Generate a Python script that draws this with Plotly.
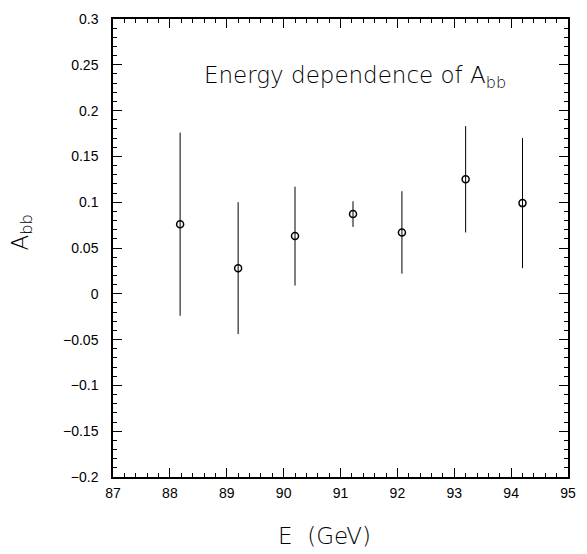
import plotly.graph_objects as go

energy = [88.18, 89.2, 90.2, 91.22, 92.08, 93.2, 94.2]
a_bb = [0.076, 0.028, 0.063, 0.087, 0.067, 0.125, 0.099]
err = [0.100, 0.072, 0.054, 0.014, 0.045, 0.058, 0.071]

x_ticks = [87, 88, 89, 90, 91, 92, 93, 94, 95]
y_ticks = [-0.2, -0.15, -0.1, -0.05, 0, 0.05, 0.1, 0.15, 0.2, 0.25, 0.3]
y_ticktext = ["\u22120.2", "\u22120.15", "\u22120.1", "\u22120.05", "0", "0.05", "0.1", "0.15", "0.2", "0.25", "0.3"]

fig = go.Figure()
fig.add_trace(go.Scatter(
    x=energy, y=a_bb, mode="markers",
    marker=dict(symbol="circle-open", size=7, color="black", line=dict(width=1.5, color="black")),
    error_y=dict(type="data", array=err, visible=True, color="black", thickness=1, width=0),
    showlegend=False,
))

axis_common = dict(
    showgrid=False, zeroline=False, showline=True, linecolor="black", linewidth=1.5,
    mirror="allticks", ticks="inside", tickcolor="black",
    tickfont=dict(family="Liberation Sans, Arial, sans-serif", size=14, color="black"),
)
fig.update_xaxes(
    range=[87, 95], tickvals=x_ticks, ticklen=9, tickwidth=1,
    minor=dict(dtick=0.2, ticks="inside", ticklen=4, tickcolor="black", tickwidth=1),
    ticklabelstandoff=2,
    **axis_common,
)
fig.update_yaxes(
    range=[-0.2, 0.3], tickvals=y_ticks, ticktext=y_ticktext, ticklen=9, tickwidth=1,
    minor=dict(dtick=0.01, ticks="inside", ticklen=4, tickcolor="black", tickwidth=1),
    ticklabelstandoff=10,
    **axis_common,
)

title_font = dict(family="DejaVu Sans, sans-serif", size=23, color="black", weight=300)
fig.add_annotation(
    text="Energy dependence of A<sub>bb</sub>", xref="paper", yref="paper",
    x=0.531, y=0.873, showarrow=False, font=title_font, xanchor="center", yanchor="middle",
)
fig.add_annotation(
    text="E  (GeV)", xref="paper", yref="paper",
    x=0.465, y=-0.129, showarrow=False, font=title_font, xanchor="center", yanchor="middle",
)
fig.add_annotation(
    text="A<sub>bb</sub>", xref="paper", yref="paper", textangle=-90,
    x=-0.2, y=0.534, showarrow=False, font=title_font, xanchor="center", yanchor="middle",
)

fig.update_layout(
    width=587, height=554,
    margin=dict(l=113, r=11, t=11, b=77),
    plot_bgcolor="white", paper_bgcolor="white",
)

fig.write_html("out.html")
